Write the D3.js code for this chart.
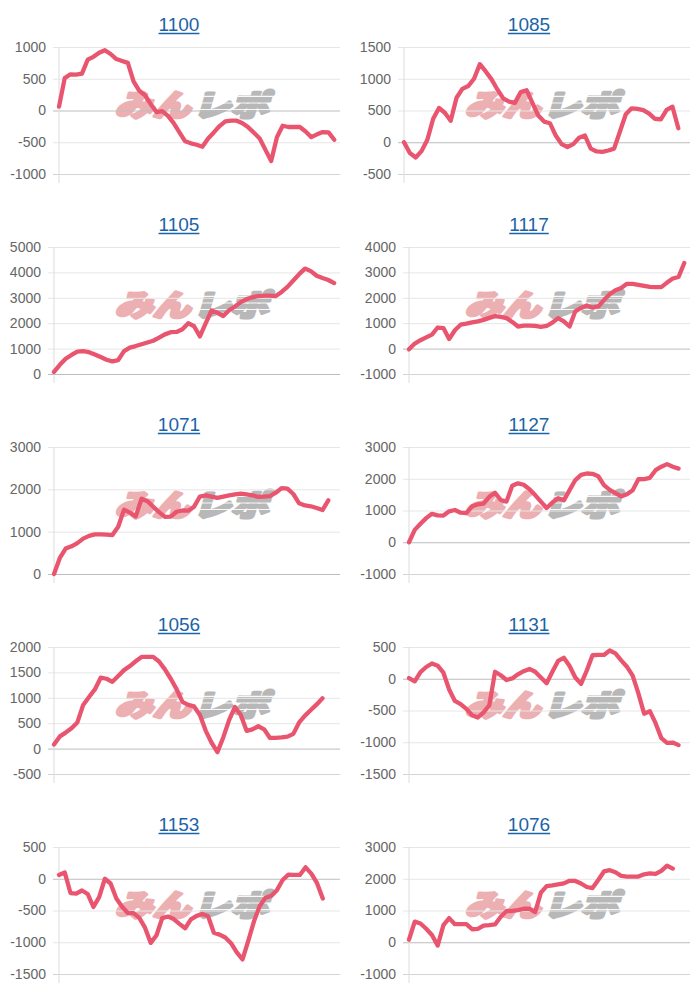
<!DOCTYPE html>
<html><head><meta charset="utf-8">
<script src="https://cdn.jsdelivr.net/npm/d3@7"></script>
<style>body{margin:0;background:#fff;} svg{display:block;font-family:"Liberation Sans",Arial,sans-serif;}</style>
</head><body>
<svg id="c" width="700" height="1000"></svg>
<script>
const titles = ["1100","1085","1105","1117","1071","1127","1056","1131","1153","1076"];

const s1100 = [60,510,570,565,580,800,845,910,950,890,810,780,750,460,310,240,100,-25,-10,-85,-200,-345,-485,-517,-540,-570,-440,-345,-245,-170,-160,-160,-200,-265,-350,-440,-620,-795,-420,-240,-260,-260,-260,-330,-420,-375,-340,-345,-460];
const s1085 = [0,-170,-240,-140,40,370,540,465,340,700,840,885,1000,1230,1115,990,830,690,640,620,790,820,620,420,325,300,105,-30,-75,-30,70,105,-100,-145,-150,-130,-100,170,440,535,525,505,450,370,360,510,560,220];
const s1105 = [80,360,600,750,880,900,860,770,670,560,500,550,900,1040,1100,1170,1240,1310,1430,1560,1645,1655,1760,2000,1880,1480,2000,2500,2410,2280,2510,2660,2830,2950,3020,3070,3085,3085,3070,3230,3430,3680,3930,4150,4050,3870,3780,3700,3580];
const s1117 = [-30,200,330,440,550,830,810,380,720,940,980,1030,1075,1130,1210,1280,1250,1200,1050,870,905,905,895,855,890,1020,1200,1070,870,1470,1600,1700,1610,1660,1910,2140,2300,2390,2550,2550,2510,2470,2430,2420,2420,2600,2760,2820,3370];
const s1071 = [0,380,600,655,730,835,900,935,935,932,920,1116,1520,1450,1360,1780,1720,1590,1460,1350,1355,1470,1500,1495,1590,1830,1855,1830,1800,1830,1855,1880,1900,1880,1860,1820,1830,1840,1920,2030,2015,1890,1670,1620,1600,1560,1510,1740];
const s1127 = [0,390,580,760,895,845,840,975,1015,930,920,1130,1195,1220,1430,1560,1330,1280,1780,1855,1810,1670,1485,1280,1080,1250,1385,1320,1640,1960,2120,2165,2155,2080,1800,1650,1545,1445,1510,1640,1985,1990,2030,2270,2380,2460,2380,2320];
const s1056 = [80,240,315,400,515,860,1015,1165,1395,1375,1315,1430,1545,1625,1720,1805,1805,1805,1715,1560,1375,1170,920,860,830,660,350,115,-70,220,560,820,660,350,380,440,380,210,210,220,235,290,515,650,760,870,990];
const s1131 = [10,-40,105,185,240,205,95,-170,-350,-400,-475,-575,-610,-530,-420,110,55,-20,5,70,120,155,110,20,-70,110,280,330,200,20,-80,130,370,375,375,445,400,290,190,50,-230,-550,-510,-700,-935,-1010,-1005,-1045];
const s1153 = [60,100,-225,-235,-185,-240,-445,-290,0,-75,-310,-440,-540,-540,-615,-770,-1010,-890,-620,-595,-635,-710,-780,-640,-585,-555,-590,-850,-880,-925,-1015,-1160,-1270,-980,-670,-430,-300,-270,-180,-20,65,60,60,180,80,-70,-310];
const s1076 = [80,650,590,425,230,-105,540,760,570,570,570,410,420,525,540,560,805,985,985,1010,1055,1060,950,1560,1770,1795,1825,1855,1935,1930,1850,1740,1705,1960,2230,2270,2205,2090,2070,2070,2070,2140,2170,2150,2250,2410,2320];

const t1100 = [-1000,-500,0,500,1000];
const t1085 = [-500,0,500,1000,1500];
const t1105 = [0,1000,2000,3000,4000,5000];
const t1117 = [-1000,0,1000,2000,3000,4000];
const t1071 = [0,1000,2000,3000];
const t1127 = [-1000,0,1000,2000,3000];
const t1056 = [-500,0,500,1000,1500,2000];
const t1131 = [-1500,-1000,-500,0,500];
const t1153 = [-1500,-1000,-500,0,500];
const t1076 = [-1000,0,1000,2000,3000];

const seriesList = [s1100,s1085,s1105,s1117,s1071,s1127,s1056,s1131,s1153,s1076];
const tickList = [t1100,t1085,t1105,t1117,t1071,t1127,t1056,t1131,t1153,t1076];
const SLOTS = 50;

const svg = d3.select("#c");
const lineColor = "#e9556f";

titles.forEach((title, i) => {
  const col = i % 2, row = Math.floor(i / 2);
  const g = svg.append("g").attr("transform", `translate(${col*350},${row*200})`);
  const ticks = tickList[i];

  const tmp = g.append("text").attr("font-size", 14);
  let maxW = 0;
  ticks.forEach(t => { tmp.text(String(t)); maxW = Math.max(maxW, tmp.node().getComputedTextLength()); });
  tmp.remove();

  const left = Math.round(10 + maxW + 13), right = 340, top = 47, bottom = 174;
  const y = d3.scaleLinear().domain(d3.extent(ticks)).range([bottom, top]);
  const x = d3.scaleLinear().domain([0, SLOTS - 1]).range([left, right]);

  // watermark
  const wm = g.append("g").attr("transform", "translate(108,116) skewX(-16) scale(1.18,0.93)");
  wm.append("text").attr("x", 6).attr("y", 0).attr("font-size", 32).attr("font-weight", 900)
    .attr("font-family", "'Noto Sans CJK JP'").attr("fill", "#ecb0b2")
    .attr("stroke", "#ecb0b2").attr("stroke-width", 3.2).attr("stroke-linejoin", "round").text("みん");
  wm.append("text").attr("x", 72).attr("y", 0).attr("font-size", 32).attr("font-weight", 900)
    .attr("font-family", "'Noto Sans CJK JP'").attr("fill", "#b8b8b8")
    .attr("stroke", "#b8b8b8").attr("stroke-width", 3.2).attr("stroke-linejoin", "round").text("レポ");
  [-21, -14, -7].forEach(dy => {
    wm.append("line").attr("x1", 70).attr("x2", 146).attr("y1", dy).attr("y2", dy)
      .attr("stroke", "#fff").attr("stroke-width", 1.3).attr("opacity", 0.9);
  });

  const ax = g.append("g").attr("transform", `translate(${left},0)`)
    .call(d3.axisLeft(y).tickValues(ticks).tickSize(-(right - left)).tickPadding(13).tickFormat(d => String(d)));
  ax.select(".domain").remove();
  ax.selectAll(".tick line")
    .attr("stroke", d => d === 0 ? "#bdbdbd" : (d === ticks[0] ? "#d4d4d4" : "#e6e6e6"))
    .attr("x1", -6);
  ax.selectAll(".tick text").attr("font-size", 14).attr("fill", "#666")
    .attr("font-family", "'Liberation Sans',Arial,sans-serif");

  g.append("line").attr("x1", left).attr("x2", left).attr("y1", top).attr("y2", bottom + 9)
    .attr("stroke", "#dcdcdc").attr("stroke-width", 1);

  const data = seriesList[i];
  g.append("path").datum(data)
    .attr("fill", "none").attr("stroke", lineColor).attr("stroke-width", 4.3)
    .attr("stroke-linejoin", "round").attr("stroke-linecap", "round")
    .attr("d", d3.line().x((d, k) => x(k)).y(d => y(d)));

  const tt = g.append("text").attr("x", 179).attr("y", 31).attr("text-anchor", "middle")
    .attr("font-size", 19).attr("fill", "#1b63a8").text(title);
  const tw = tt.node().getComputedTextLength();
  g.append("line").attr("x1", 179 - tw / 2).attr("x2", 179 + tw / 2).attr("y1", 33.5).attr("y2", 33.5)
    .attr("stroke", "#1b63a8").attr("stroke-width", 1.3);
});
</script>
</body></html>
